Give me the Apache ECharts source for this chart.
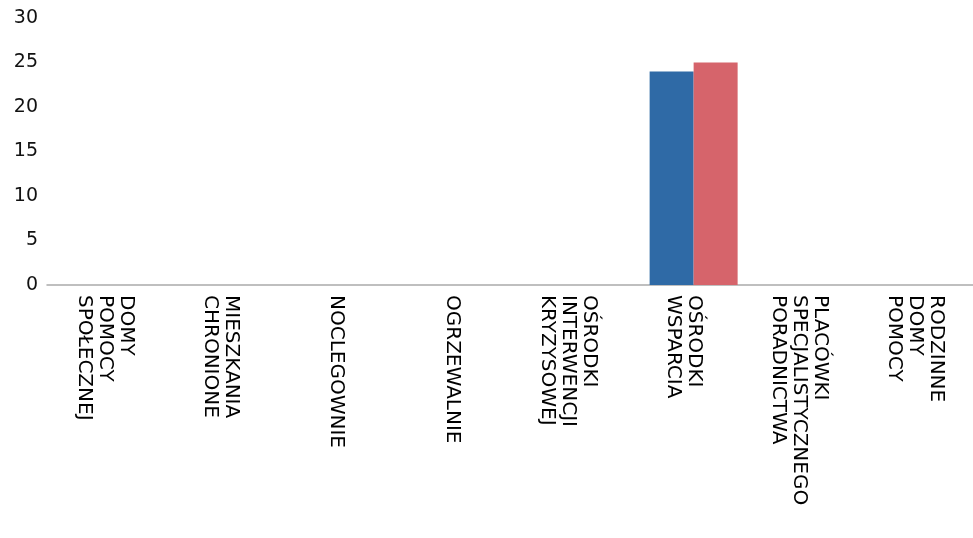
<!DOCTYPE html>
<html>
<head>
<meta charset="utf-8">
<script src="https://cdn.jsdelivr.net/npm/echarts@6/dist/echarts.min.js"></script>
<style>html,body{margin:0;padding:0;background:#fff}#c{width:973px;height:538px}</style>
</head>
<body>
<div id="c"></div>
<script>
const categories = [
  "DOMY\nPOMOCY\nSPOŁECZNEJ",
  "MIESZKANIA\nCHRONIONE",
  "NOCLEGOWNIE",
  "OGRZEWALNIE",
  "OŚRODKI\nINTERWENCJI\nKRYZYSOWEJ",
  "OŚRODKI\nWSPARCIA",
  "PLACÓWKI\nSPECJALISTYCZNEGO\nPORADNICTWA",
  "RODZINNE\nDOMY\nPOMOCY"
];
const seriesBlue = [0, 0, 0, 0, 0, 24, 0, 0];
const seriesRed = [0, 0, 0, 0, 0, 25, 0, 0];
const spacer = [null, null, null, null, null, null, null, null];
const yTicks = [0, 5, 10, 15, 20, 25, 30];

const chart = echarts.init(document.getElementById('c'));
chart.setOption({
  animation: false,
  backgroundColor: '#fff',
  grid: { left: 47, right: 0, top: 18, bottom: 253, containLabel: false },
  xAxis: {
    type: 'category',
    data: categories,
    axisLine: { lineStyle: { color: '#aaa', width: 1.5 } },
    axisTick: { show: false },
    axisLabel: {
      rotate: -90, interval: 0, margin: 10,
      fontFamily: 'DejaVu Sans', fontSize: 20, lineHeight: 21, color: '#000'
    }
  },
  yAxis: {
    type: 'value',
    min: yTicks[0], max: yTicks[yTicks.length - 1], interval: 5,
    axisLine: { show: false },
    axisTick: { show: false },
    splitLine: { show: false },
    axisLabel: { margin: 9, fontFamily: 'DejaVu Sans', fontSize: 19, color: '#111' }
  },
  series: [
    { type: 'bar', data: spacer, barWidth: 20, barGap: 0, silent: true,
      itemStyle: { color: 'transparent' } },
    { type: 'bar', data: seriesBlue, barWidth: 44,
      itemStyle: { color: '#2f6aa6' } },
    { type: 'bar', data: seriesRed, barWidth: 44,
      itemStyle: { color: '#d6646b' } }
  ]
});
</script>
</body>
</html>
